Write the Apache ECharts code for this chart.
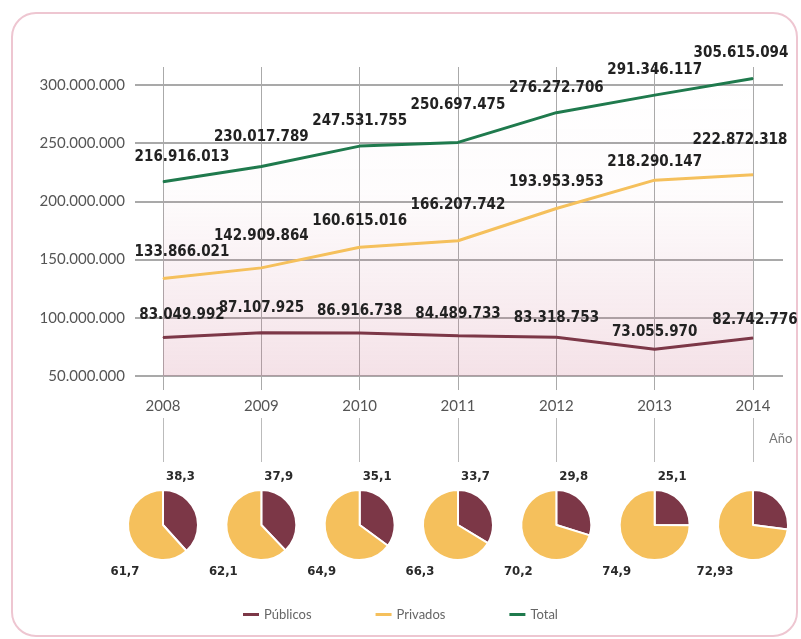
<!DOCTYPE html>
<html>
<head>
<meta charset="utf-8">
<script src="https://cdn.jsdelivr.net/npm/echarts@6/dist/echarts.min.js"></script>
<style>
  html, body { margin: 0; padding: 0; background: #fff; }
  #chart { width: 801px; height: 639px; }
</style>
</head>
<body>
<div id="chart"></div>
<script>
// datos
const years = ['2008', '2009', '2010', '2011', '2012', '2013', '2014'];
const publicos = [83049992, 87107925, 86916738, 84489733, 83318753, 73055970, 82742776];
const privados = [133866021, 142909864, 160615016, 166207742, 193953953, 218290147, 222872318];
const total = [216916013, 230017789, 247531755, 250697475, 276272706, 291346117, 305615094];
// porcentaje sobre el total
const pctPublicos = [38.3, 37.9, 35.1, 33.7, 29.8, 25.1, 27.07];
const pctPrivados = [61.7, 62.1, 64.9, 66.3, 70.2, 74.9, 72.93];

const C_PUB = '#7c3747';
const C_PRIV = '#f5c05c';
const C_TOT = '#1f7a4d';
const LABEL_FONT = 'DejaVu Sans Condensed';

// layout del area de lineas
const plotLeft = 163, plotRight = 48;
const plotWidth = 801 - plotLeft - plotRight;
const pieY = 525, pieR = 35;

function fmtNum (v) {
  return String(Math.round(v)).replace(/\B(?=(\d{3})+(?!\d))/g, '.');
}
function fmtPct (v) {
  return String(v).replace('.', ',');
}

const chart = echarts.init(document.getElementById('chart'));

// serie de linea con etiquetas encima
// lift: ajuste de la distancia de algunas etiquetas para que no se pisen
function lineSeries (name, values, color, dist, lastShift, z, lift) {
  const last = values.length - 1;
  return {
    name: name,
    type: 'line',
    xAxisIndex: 0,
    yAxisIndex: 0,
    z: z,
    symbol: 'circle',
    symbolSize: 1,
    lineStyle: { color: color, width: 3 },
    itemStyle: { color: color },
    label: {
      show: true,
      position: 'top',
      distance: dist,
      color: '#222',
      fontFamily: LABEL_FONT,
      fontWeight: 'bold',
      fontSize: 15,
      formatter: p => fmtNum(p.value)
    },
    data: values.map((v, i) => ({
      value: v,
      label: {
        distance: dist + (lift[i] || 0),
        offset: [i === 0 ? 19 : (i === last ? lastShift : 0), 0]
      }
    }))
  };
}

const series = [
  lineSeries('Públicos', publicos, C_PUB, 14, 2, 3, { 1: 3, 4: -3, 5: -5, 6: -4 }),
  lineSeries('Privados', privados, C_PRIV, 18, -13, 3, { 1: 6, 3: 10, 5: -8, 6: 9 }),
  Object.assign(lineSeries('Total', total, C_TOT, 17, -12, 2, { 1: 4, 3: 12 }), {
    areaStyle: {
      origin: 'start',
      color: new echarts.graphic.LinearGradient(0, 0, 0, 1, [
        { offset: 0, color: 'rgba(200,110,140,0)' },
        { offset: 0.38, color: 'rgba(200,110,140,0.03)' },
        { offset: 1, color: 'rgba(200,100,130,0.27)' }
      ])
    }
  })
];

// tartas por año
years.forEach((y, i) => {
  const cx = plotLeft + i * plotWidth / (years.length - 1);
  series.push({
    type: 'pie',
    silent: true,
    radius: pieR,
    center: [cx, pieY],
    startAngle: 90,
    clockwise: true,
    itemStyle: { borderColor: '#fff', borderWidth: 2 },
    labelLine: { show: false },
    label: {
      show: true,
      position: 'outside',
      color: '#2a2a2a',
      fontFamily: LABEL_FONT,
      fontWeight: 'bold',
      fontSize: 13,
      formatter: p => fmtPct(p.value)
    },
    labelLayout: function (params) {
      if (params.dataIndex === 0) {
        return { x: cx + 3, y: pieY - 48, align: 'left', verticalAlign: 'middle' };
      }
      return { x: cx - 38, y: pieY + 47, align: 'center', verticalAlign: 'middle' };
    },
    data: [
      { name: 'Públicos', value: pctPublicos[i], itemStyle: { color: C_PUB } },
      { name: 'Privados', value: pctPrivados[i], itemStyle: { color: C_PRIV } }
    ]
  });
});

chart.setOption({
  animation: false,
  color: [C_PUB, C_PRIV, C_TOT],
  textStyle: { fontFamily: 'Lato' },
  legend: {
    data: ['Públicos', 'Privados', 'Total'],
    left: 238,
    top: 603,
    icon: 'rect',
    itemWidth: 16,
    itemHeight: 3,
    itemGap: 64,
    selectedMode: false,
    textStyle: { color: '#666', fontSize: 13, fontFamily: 'Lato' }
  },
  graphic: [
    {
      type: 'rect',
      silent: true,
      shape: { x: 12, y: 13, width: 785, height: 623, r: 24 },
      style: { fill: 'none', stroke: '#eec6d1', lineWidth: 2 }
    },
    {
      type: 'text',
      left: 769,
      top: 432,
      style: { text: 'Año', fill: '#777', fontSize: 13, fontFamily: 'Lato' }
    }
  ],
  grid: [
    // lineas
    { left: plotLeft, right: plotRight, top: 67, bottom: 263 },
    // rejilla horizontal y etiquetas
    { left: 135, right: 18, top: 85, bottom: 263 },
    // conectores hacia las tartas
    { left: plotLeft, right: plotRight, top: 418, height: 44 }
  ],
  xAxis: [
    {
      gridIndex: 0,
      type: 'category',
      boundaryGap: false,
      data: years,
      axisLine: { show: false },
      axisTick: { show: true, length: 14, lineStyle: { color: '#aaa' } },
      axisLabel: { color: '#555', fontSize: 15, margin: 23, fontFamily: 'Lato' },
      splitLine: { show: true, lineStyle: { color: '#aaa', width: 1 } }
    },
    { gridIndex: 1, type: 'category', data: years, show: false },
    {
      gridIndex: 2,
      type: 'category',
      boundaryGap: false,
      data: years,
      axisLine: { show: false },
      axisTick: { show: false },
      axisLabel: { show: false },
      splitLine: { show: true, lineStyle: { color: '#bbb', width: 1 } }
    }
  ],
  yAxis: [
    { gridIndex: 0, type: 'value', min: 50000000, max: 315500000, show: false },
    {
      gridIndex: 1,
      type: 'value',
      min: 50000000,
      max: 300000000,
      interval: 50000000,
      axisLine: { show: false },
      axisTick: { show: false },
      axisLabel: { color: '#555', fontSize: 15, margin: 10, fontFamily: 'Lato', formatter: fmtNum },
      splitLine: { show: true, lineStyle: { color: '#8c8c8c', width: 1.5 } }
    },
    { gridIndex: 2, type: 'value', show: false }
  ],
  series: series
});
</script>
</body>
</html>
